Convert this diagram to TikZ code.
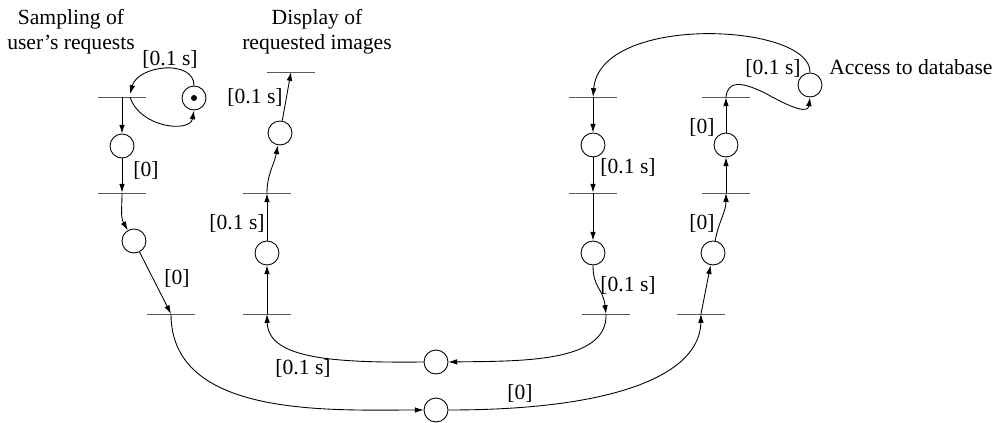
\documentclass[tikz,border=0pt]{standalone}
\usepackage{fontspec}
\setmainfont{Liberation Serif}
\usetikzlibrary{arrows.meta,calc}
\begin{document}
\begin{tikzpicture}[x=0.02cm,y=0.02cm,line width=0.5pt,
    font=\fontsize{12.3}{14.2}\selectfont,
    place/.style={draw,circle,minimum size=0.48cm,inner sep=0pt},
    trans/.style={draw,rectangle,minimum width=0.96cm,minimum height=0pt,inner sep=0pt},
    arc/.style={-{Latex[length=5pt,width=3.2pt]}}]
    \useasboundingbox (0,0) rectangle (992,423);
    % sampling of user's requests
    \node[trans] (t11) at (122,326) {};
    \node[place] (p10) at (194,325) {};
    \fill (p10) circle (3);
    \node[place] (p11) at (122,277) {};
    \node[trans] (t12) at (122,230) {};
    \node[place] (p12) at (134,182) {};
    \node[trans] (t13) at (171,109) {};
    % display of requested images
    \node[trans] (t21) at (267,109) {};
    \node[place] (p21) at (267,170) {};
    \node[trans] (t22) at (267,230) {};
    \node[place] (p22) at (280,290) {};
    \node[trans] (t23) at (291,351) {};
    % access to database
    \node[trans] (t31) at (593,326) {};
    \node[place] (p31) at (593,278) {};
    \node[trans] (t32) at (593,230) {};
    \node[place] (p32) at (593,170) {};
    \node[trans] (t33) at (606,109) {};
    \node[trans] (t41) at (701,109) {};
    \node[place] (p41) at (713,170) {};
    \node[trans] (t42) at (726,230) {};
    \node[place] (p42) at (726,278) {};
    \node[trans] (t43) at (726,326) {};
    \node[place] (pdb) at (810,338) {};
    \node[place] (pm) at (436,61) {};
    \node[place] (pb) at (436,13) {};

    \node[align=center] (sampling) at (71,391) {Sampling of\\user's requests};
    \node[align=center] (display) at (317,391) {Display of\\requested images};
    \node[anchor=west] (access) at (823,356) {Access to database};
    \node (d10) at (170,364) {[0.1 s]};
    \node (d11) at (146,253) {[0]};
    \node (d12) at (177,145) {[0]};
    \node (d21) at (237,200) {[0.1 s]};
    \node (d22) at (255,326) {[0.1 s]};
    \node (dm) at (303,55) {[0.1 s]};
    \node (db) at (520,30) {[0]};
    \node (d31) at (628,256) {[0.1 s]};
    \node (d32) at (628,138) {[0.1 s]};
    \node (d41) at (702,200) {[0]};
    \node (d42) at (702,296) {[0]};
    \node (ddb) at (773,355) {[0.1 s]};

    \draw[arc] (p10.north) .. controls (194,364) and (138,358) .. ($(t11)+(8,3)$);
    \draw[arc] ($(t11)+(8,0)$) .. controls (140,295) and (190,290) .. (p10.south);
    \draw[arc] (t11) -- (p11);
    \draw[arc] (p11) -- (t12);
    \draw[arc] (t12.center) to[out=-90,in=120] (p12);
    \draw[arc] (p12) -- (t13.center);
    \draw[arc] (t13.center) .. controls (171,5) and (330,13) .. (pb.west);
    \draw[arc] (pb.east) .. controls (620,13) and (700,50) .. (t41.center);
    \draw[arc] (t41.center) -- (p41);
    \draw[arc] (p41) to[out=80,in=-90] (t42.center);
    \draw[arc] (t42) -- (p42);
    \draw[arc] (p42) -- (t43);
    \draw[arc] (t43.center) .. controls (728,342) and (740,342) .. (765,330)
        .. controls (795,313) and (808,310) .. (pdb.south);
    \draw[arc] (pdb.north) .. controls (812,400) and (600,410) .. (t31.center);
    \draw[arc] (t31) -- (p31);
    \draw[arc] (p31) -- (t32);
    \draw[arc] (t32) -- (p32);
    \draw[arc] (p32.south) .. controls (593,135) and (603,135) .. (t33.center);
    \draw[arc] (t33.center) .. controls (608,60) and (520,62) .. (pm.east);
    \draw[arc] (pm.west) .. controls (330,60) and (268,65) .. (t21.center);
    \draw[arc] (t21) -- (p21);
    \draw[arc] (p21) -- (t22);
    \draw[arc] (t22.center) to[out=90,in=-100] (p22);
    \draw[arc] (p22) -- (t23.center);
\end{tikzpicture}
\end{document}
